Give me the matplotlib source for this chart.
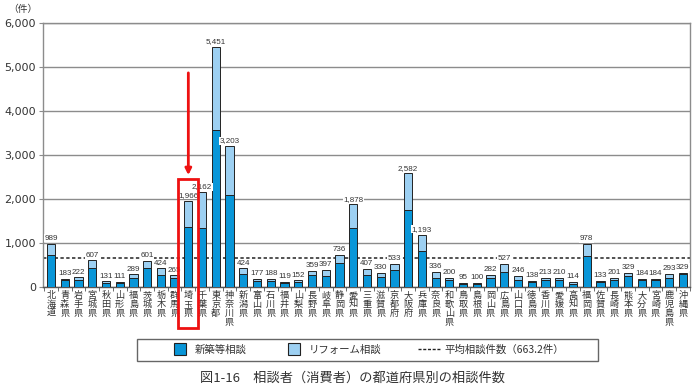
import matplotlib
matplotlib.use("Agg")
import matplotlib.pyplot as plt
from matplotlib import font_manager
from matplotlib.lines import Line2D
from matplotlib.patches import Rectangle, FancyArrowPatch
import numpy as np

plt.rcParams['font.family'] = ['Noto Sans CJK JP', 'DejaVu Sans']

prefectures = ["北海道", "青森県", "岩手県", "宮城県", "秋田県", "山形県", "福島県", "茨城県",
               "栃木県", "群馬県", "埼玉県", "千葉県", "東京都", "神奈川県", "新潟県", "富山県",
               "石川県", "福井県", "山梨県", "長野県", "岐阜県", "静岡県", "愛知県", "三重県",
               "滋賀県", "京都府", "大阪府", "兵庫県", "奈良県", "和歌山県", "鳥取県", "島根県",
               "岡山県", "広島県", "山口県", "徳島県", "香川県", "愛媛県", "高知県", "福岡県",
               "佐賀県", "長崎県", "熊本県", "大分県", "宮崎県", "鹿児島県", "沖縄県"]
totals = [989, 183, 222, 607, 131, 111, 289, 601, 424, 265, 1966, 2162, 5451, 3203, 424, 177,
          188, 119, 152, 359, 397, 736, 1878, 407, 330, 533, 2582, 1193, 336, 200, 95, 100,
          282, 527, 246, 138, 213, 210, 114, 978, 133, 201, 329, 184, 184, 293, 329]
new_build = [735, 150, 170, 438, 100, 85, 215, 440, 270, 215, 1370, 1350, 3560, 2090, 290, 130,
             135, 90, 115, 280, 255, 540, 1340, 270, 230, 390, 1745, 810, 210, 155, 80, 80,
             215, 345, 170, 110, 160, 160, 80, 710, 110, 155, 255, 155, 155, 215, 300]
average = 663.2
yticks = [0, 1000, 2000, 3000, 4000, 5000, 6000]
highlight = "埼玉県"

reform = [t - n for t, n in zip(totals, new_build)]

names = {f.name for f in font_manager.fontManager.ttflist}
num_font = 'Liberation Sans Narrow' if 'Liberation Sans Narrow' in names else 'Liberation Sans'

DARK = '#0996d8'
LIGHT = '#9dd0f2'
TXT = '#333333'
GRID = '#8c8c8c'

fig = plt.figure(figsize=(7.0, 3.9), dpi=100)
ax = fig.add_axes([0.0614, 0.264, 0.9246, 0.677])

x = np.arange(len(prefectures))
w = 0.6
ax.bar(x, new_build, width=w, color=DARK, edgecolor='#222222', linewidth=0.7, zorder=3)
ax.bar(x, reform, width=w, bottom=new_build, color=LIGHT, edgecolor='#222222', linewidth=0.7, zorder=3)
ax.axhline(average, color='#222222', linestyle=(0, (2.2, 1.6)), linewidth=1.1, zorder=2)

num_size = 6.6 if num_font == 'Liberation Sans Narrow' else 5.8
for xi, t in zip(x, totals):
    ax.text(xi, t + 40, f"{t:,}", ha='center', va='bottom', fontsize=num_size,
            family=[num_font, 'DejaVu Sans'], color=TXT, zorder=4,
            bbox=dict(facecolor='white', edgecolor='none', pad=0.4))

ax.set_xlim(-0.58, len(prefectures) - 0.47)
ax.set_ylim(0, 6000)
ax.set_yticks(yticks)
ax.set_yticklabels([f"{v:,}" for v in yticks], fontsize=8, color=TXT, family='DejaVu Sans')
ax.yaxis.grid(True, color=GRID, linewidth=1.0, zorder=0)
ax.set_axisbelow(True)
for s in ax.spines.values():
    s.set_color(GRID)
    s.set_linewidth(1.0)
ax.spines['bottom'].set_color('#555555')
ax.tick_params(axis='y', length=3, color=GRID, pad=2)

ax.set_xticks(np.arange(len(prefectures) + 1) - 0.5, minor=True)
ax.set_xticks([])
ax.tick_params(axis='x', which='minor', length=3, color='#555555')
for xi, name in zip(x, prefectures):
    ax.text(xi, -90, "\n".join(name), ha='center', va='top', fontsize=6.6,
            linespacing=0.98, color=TXT, transform=ax.transData, clip_on=False)

ax.text(-0.031, 1.035, "（件）", transform=ax.transAxes, ha='center', va='bottom', fontsize=7, color=TXT)

# highlight box and arrow
hi = prefectures.index(highlight)
ax.add_patch(Rectangle((hi - 0.73, -930), 1.46, 3385, fill=False, edgecolor='#ee1111',
                       linewidth=2.0, clip_on=False, zorder=5))
ax.add_patch(FancyArrowPatch((hi, 4930), (hi, 2480), arrowstyle='-|>', mutation_scale=9,
                             color='#ee1111', linewidth=2.0, clip_on=False, zorder=5))

# legend
fig.patches.append(Rectangle((0.196, 0.074), 0.658, 0.057, transform=fig.transFigure,
                             fill=False, edgecolor='#666666', linewidth=1.0))
handles = [Line2D([], [], marker='s', markersize=9, markerfacecolor=DARK, markeredgecolor='#222222',
                  markeredgewidth=0.8, linestyle='None'),
           Line2D([], [], marker='s', markersize=9, markerfacecolor=LIGHT, markeredgecolor='#222222',
                  markeredgewidth=0.8, linestyle='None'),
           Line2D([], [], color='#222222', linestyle=(0, (2.2, 1.2)), linewidth=1.0)]
labels = ["新築等相談", "リフォーム相談", "平均相談件数（663.2件）"]
fig.legend(handles, labels, loc='center', bbox_to_anchor=(0.523, 0.1025), ncol=3, frameon=False,
           fontsize=7.5, handlelength=2.2, handletextpad=0.3, columnspacing=3.5, labelcolor=TXT)

fig.text(0.503, 0.031, "図1-16　相談者（消費者）の都道府県別の相談件数", ha='center', va='center',
         fontsize=9.5, color=TXT)

fig.savefig("out.png", dpi=100)
